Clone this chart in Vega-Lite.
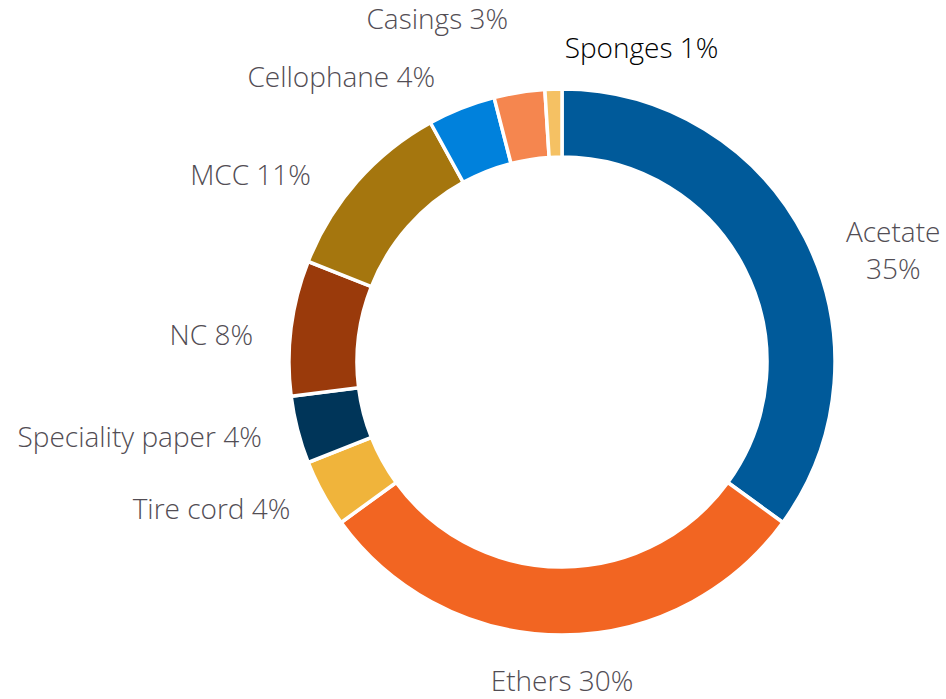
{
  "$schema": "https://vega.github.io/schema/vega-lite/v6.json",
  "width": 560,
  "height": 560,
  "autosize": {"type": "none"},
  "padding": {"left": 282, "top": 82, "right": 104, "bottom": 57},
  "background": "white",
  "config": {"view": {"stroke": null}, "text": {"font": "Open Sans", "fontWeight": 300, "fontSize": 28, "color": "#524D54"}},
  "data": {
    "values": [
      {"order": 1, "category": "Acetate", "value": 35, "label": "Acetate\n35%"},
      {"order": 2, "category": "Ethers", "value": 30, "label": "Ethers 30%"},
      {"order": 3, "category": "Tire cord", "value": 4, "label": "Tire cord 4%"},
      {"order": 4, "category": "Speciality paper", "value": 4, "label": "Speciality paper 4%"},
      {"order": 5, "category": "NC", "value": 8, "label": "NC 8%"},
      {"order": 6, "category": "MCC", "value": 11, "label": "MCC 11%"},
      {"order": 7, "category": "Cellophane", "value": 4, "label": "Cellophane 4%"},
      {"order": 8, "category": "Casings", "value": 3, "label": "Casings 3%"},
      {"order": 9, "category": "Sponges", "value": 1, "label": "Sponges 1%"}
    ]
  },
  "encoding": {
    "theta": {"field": "value", "type": "quantitative", "stack": true},
    "order": {"field": "order", "type": "quantitative"}
  },
  "layer": [
    {
      "mark": {"type": "arc", "outerRadius": 273, "innerRadius": 205, "stroke": "white", "strokeWidth": 3.5},
      "encoding": {
        "color": {
          "field": "category",
          "type": "nominal",
          "legend": null,
          "scale": {
            "domain": ["Acetate", "Ethers", "Tire cord", "Speciality paper", "NC", "MCC", "Cellophane", "Casings", "Sponges"],
            "range": ["#005A9A", "#F26522", "#F0B43B", "#003559", "#9A3A0B", "#A5760E", "#0081DC", "#F5864F", "#F5C163"]
          }
        }
      }
    },
    {
      "mark": {"type": "text", "radius": 310, "align": "right", "baseline": "middle"},
      "encoding": {
        "text": {
          "condition": {"test": "indexof(['Tire cord','Speciality paper'], datum.category) >= 0", "field": "label"},
          "value": ""
        }
      }
    },
    {
      "mark": {"type": "text", "radius": 310, "thetaOffset": -0.045, "align": "right", "baseline": "middle"},
      "encoding": {
        "text": {
          "condition": {"test": "indexof(['NC','Cellophane'], datum.category) >= 0", "field": "label"},
          "value": ""
        }
      }
    },
    {
      "mark": {"type": "text", "radius": 312, "thetaOffset": -0.087, "align": "right", "baseline": "middle"},
      "encoding": {
        "text": {"condition": {"test": "datum.category === 'MCC'", "field": "label"}, "value": ""}
      }
    },
    {
      "mark": {"type": "text", "radius": 345, "align": "right", "baseline": "middle"},
      "encoding": {
        "text": {"condition": {"test": "datum.category === 'Casings'", "field": "label"}, "value": ""}
      }
    },
    {
      "mark": {"type": "text", "radius": 312, "thetaOffset": 0.04, "align": "left", "baseline": "middle", "color": "#000000"},
      "encoding": {
        "text": {"condition": {"test": "datum.category === 'Sponges'", "field": "label"}, "value": ""}
      }
    },
    {
      "mark": {"type": "text", "radius": 321, "align": "center", "baseline": "middle"},
      "encoding": {
        "text": {"condition": {"test": "datum.category === 'Ethers'", "field": "label"}, "value": ""}
      }
    },
    {
      "mark": {"type": "text", "radius": 355, "thetaOffset": 0.103, "align": "center", "baseline": "middle", "lineBreak": "\n", "lineHeight": 37},
      "encoding": {
        "text": {"condition": {"test": "datum.category === 'Acetate'", "field": "label"}, "value": ""}
      }
    }
  ]
}
